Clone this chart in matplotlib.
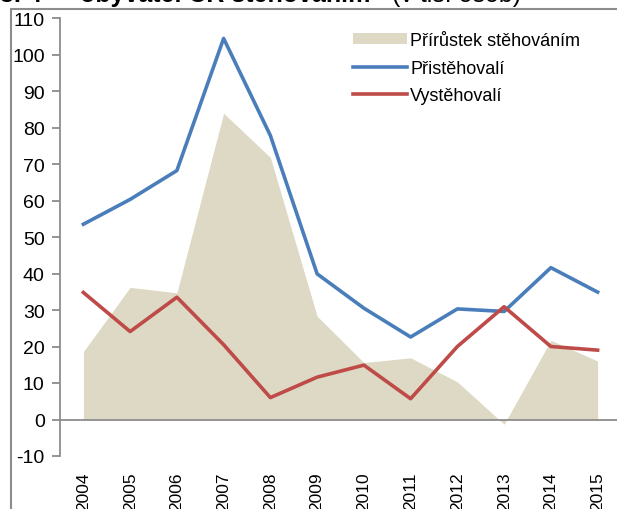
import matplotlib.pyplot as plt
from matplotlib.patches import Rectangle

years = ["2004", "2005", "2006", "2007", "2008", "2009",
         "2010", "2011", "2012", "2013", "2014", "2015"]
prirustek = [18.6, 36.2, 34.7, 83.9, 71.8, 28.3, 15.6, 16.9, 10.3, -1.3, 21.7, 16.0]
pristehovali = [53.5, 60.3, 68.2, 104.4, 77.8, 39.9, 30.5, 22.6, 30.3, 29.6, 41.6, 34.9]
vystehovali = [34.8, 24.1, 33.5, 20.5, 6.0, 11.6, 14.9, 5.7, 20.0, 30.9, 20.0, 19.0]

plt.rcParams['font.family'] = ['Liberation Sans', 'DejaVu Sans']
plt.rcParams['axes.unicode_minus'] = False

W, H = 617, 510
fig = plt.figure(figsize=(W / 100, H / 100), dpi=100)

# frame of the chart box (cut by the image edges)
fig.patches.append(Rectangle((11 / W, -0.1), 1.2, 1 - 10 / H + 0.1,
                             transform=fig.transFigure, fill=False,
                             edgecolor='#8c8c8c', linewidth=1.5))

# cut-off heading above the box
base = 1 - 2 / H
fig.text(0 / W, base, "3. 4", fontsize=18, fontweight='bold', va='baseline')
fig.text(80 / W, base, "obyvatel ČR stěhováním", fontsize=18,
         fontweight='bold', va='baseline')
fig.text(392 / W, base, "(v tis. osob)", fontsize=18, va='baseline')

ax = fig.add_axes([60 / W, 1 - 457 / H, (621 - 60) / W, (457 - 19) / H])
x = list(range(len(years)))

ax.fill_between(x, prirustek, 0, color='#ddd9c4', linewidth=0,
                label='Přírůstek stěhováním')
ax.plot(x, pristehovali, color='#4a7ebb', linewidth=2.6, label='Přistěhovalí')
ax.plot(x, vystehovali, color='#be4b48', linewidth=2.6, label='Vystěhovalí')

ax.axhline(0, color='#8c8c8c', linewidth=1.3)
ax.set_xlim(-0.5, 11.5)
ax.set_ylim(-10, 110)
ax.set_yticks(range(-10, 111, 10))
ax.set_xticks(x)
ax.set_xticklabels(years, rotation=90)

for s in ['top', 'right', 'bottom']:
    ax.spines[s].set_visible(False)
ax.spines['left'].set_color('#8c8c8c')
ax.spines['left'].set_linewidth(1.3)
ax.tick_params(axis='y', direction='out', length=6, width=1.3, color='#8c8c8c',
               labelsize=14, pad=5)
ax.tick_params(axis='x', length=0, labelsize=12.5, pad=11)
ax.set_facecolor('none')

ax.legend(loc='upper left', bbox_to_anchor=(0.51, 0.985), frameon=False,
          fontsize=13, handlelength=3.0, handleheight=0.6, handletextpad=0.15,
          labelspacing=0.6, borderaxespad=0)

fig.savefig("out.png", dpi=100)
